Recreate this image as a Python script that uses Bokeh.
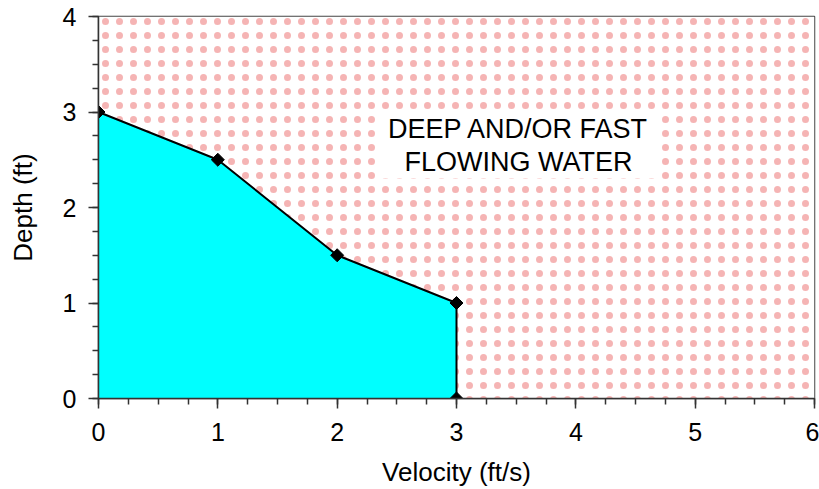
import math
from bokeh.plotting import figure
from bokeh.models import Range1d, Label, FixedTicker
from bokeh.embed import file_html
from bokeh.resources import INLINE

# data
velocity = [0, 1, 2, 3, 3]
depth = [3, 2.5, 1.5, 1, 0]
x_ticks = [0, 1, 2, 3, 4, 5, 6]
y_ticks = [0, 1, 2, 3, 4]
region_label = "DEEP AND/OR FAST\nFLOWING WATER"
label_pos = (3.52, 2.645)
x_title = "Velocity (ft/s)"
y_title = "Depth (ft)"

FONT = "Liberation Sans"

p = figure(width=819, height=489,
           min_border_left=98, min_border_right=5, min_border_top=16, min_border_bottom=91,
           x_range=Range1d(x_ticks[0], x_ticks[-1]),
           y_range=Range1d(y_ticks[0], y_ticks[-1]),
           output_backend="svg", toolbar_location=None)

p.background_fill_color = "white"
p.border_fill_color = "white"
p.outline_line_color = "#444444"
p.outline_line_width = 1.5
p.grid.visible = False

# dotted background for the "deep / fast" region
p.quad(left=[x_ticks[0]], right=[x_ticks[-1]], bottom=[y_ticks[0]], top=[y_ticks[-1]],
       fill_color="white", line_color=None,
       hatch_pattern="dot", hatch_color="#e63a3a", hatch_scale=14, hatch_weight=1, hatch_alpha=0.38)

# safe region polygon
px = [0] + velocity + [0]
py = [0] + depth + [0]
p.patch(px, py, fill_color="#00ffff", line_color=None)
p.line(velocity, depth, line_color="black", line_width=2)
p.scatter(velocity, depth, marker="square", angle=math.pi / 4, size=9.2,
          fill_color="black", line_color="black", line_width=1)

lab = Label(x=label_pos[0], y=label_pos[1], text=region_label, text_align="center", text_baseline="middle",
            text_font=FONT, text_font_size="27px", text_color="black", text_line_height=1.1,
            background_fill_color="white", padding=dict(left=7, right=7, top=1, bottom=1))
p.add_layout(lab)

for ax, ticks in ((p.xaxis, x_ticks), (p.yaxis, y_ticks)):
    ax.ticker = FixedTicker(ticks=ticks, minor_ticks=[t / 4 for t in range(0, 4 * max(ticks) + 1)])
    ax.axis_line_color = "#333333"
    ax.axis_line_width = 1.5
    ax.major_tick_line_color = "#333333"
    ax.minor_tick_line_color = "#333333"
    ax.major_tick_line_width = 1.5
    ax.minor_tick_line_width = 1.5
    ax.major_tick_out = 10
    ax.major_tick_in = 0
    ax.minor_tick_out = 6
    ax.minor_tick_in = 0
    ax.major_label_text_font = FONT
    ax.major_label_text_font_size = "25px"
    ax.major_label_text_color = "black"
    ax.axis_label_text_font = FONT
    ax.axis_label_text_font_size = "26px"
    ax.axis_label_text_font_style = "normal"
    ax.axis_label_text_color = "black"

p.xaxis.axis_label = x_title
p.yaxis.axis_label = y_title
p.xaxis.major_label_standoff = 14
p.yaxis.major_label_standoff = 12
p.xaxis.axis_label_standoff = 13
p.yaxis.axis_label_standoff = 22

open("out.html", "w").write(file_html(p, INLINE))
